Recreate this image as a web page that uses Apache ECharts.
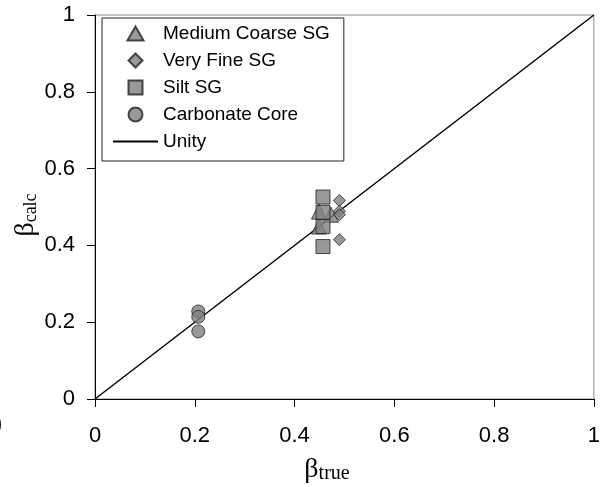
<!DOCTYPE html>
<html>
<head>
<meta charset="utf-8">
<script src="https://cdn.jsdelivr.net/npm/echarts@6/dist/echarts.min.js"></script>
<style>
html,body{margin:0;padding:0;background:#fff;}
#chart{width:603px;height:487px;}
</style>
</head>
<body>
<div id="chart"></div>
<script>
// Data (beta_true, beta_calc)
const seriesNames = ['Medium Coarse SG', 'Very Fine SG', 'Silt SG', 'Carbonate Core', 'Unity'];
const mediumCoarse = [[0.449, 0.488], [0.449, 0.449], [0.473, 0.480]];
const veryFine = [[0.490, 0.517], [0.490, 0.489], [0.490, 0.480], [0.490, 0.415]];
const silt = [[0.457, 0.526], [0.457, 0.486], [0.457, 0.449], [0.457, 0.397]];
const carbonate = [[0.207, 0.228], [0.207, 0.214], [0.207, 0.176]];
const unity = [[0, 0], [1, 1]];
const axisTicks = [0, 0.2, 0.4, 0.6, 0.8, 1];

const chart = echarts.init(document.getElementById('chart'));
const markerStyle = { color: '#808080', borderColor: '#222', borderWidth: 1 };
const sansFont = 'Liberation Sans, Arial, sans-serif';
const serifFont = 'Liberation Serif, Times New Roman, serif';

const legendIcons = {
  'Medium Coarse SG': 'path://M7.5,0 L15,13 L0,13 Z',
  'Very Fine SG': 'path://M6,0 L12,6 L6,12 L0,6 Z',
  'Silt SG': 'path://M0,0 L13,0 L13,13 L0,13 Z',
  'Carbonate Core': 'circle'
};

const option = {
  animation: false,
  backgroundColor: '#fff',
  grid: { left: 95, right: 6, top: 15, bottom: 88, show: true, borderColor: '#888', borderWidth: 1 },
  xAxis: {
    type: 'value', min: axisTicks[0], max: axisTicks[axisTicks.length - 1], interval: 0.2,
    axisLine: { show: true, onZero: false, lineStyle: { color: '#000', width: 1 } },
    axisTick: { show: true, inside: false, length: 8, lineStyle: { color: '#000' } },
    axisLabel: { margin: 26, fontSize: 22, color: '#000', fontFamily: sansFont },
    splitLine: { show: false }
  },
  yAxis: {
    type: 'value', min: axisTicks[0], max: axisTicks[axisTicks.length - 1], interval: 0.2,
    axisLine: { show: true, onZero: false, lineStyle: { color: '#000', width: 1 } },
    axisTick: { show: true, inside: false, length: 8, lineStyle: { color: '#000' } },
    axisLabel: { margin: 20, fontSize: 22, color: '#000', fontFamily: sansFont },
    splitLine: { show: false }
  },
  legend: {
    orient: 'vertical', left: 102, top: 18,
    padding: [6, 14, 10, 10], itemGap: 8, itemWidth: 45, itemHeight: 14,
    symbolKeepAspect: true,
    borderColor: '#222', borderWidth: 1, backgroundColor: '#fff',
    textStyle: { fontSize: 19, color: '#000', fontFamily: sansFont, lineHeight: 18 },
    data: seriesNames.map(function (n) {
      const d = { name: n, symbolKeepAspect: true };
      if (legendIcons[n]) d.icon = legendIcons[n];
      return d;
    })
  },
  series: [
    { name: seriesNames[4], type: 'line', data: unity, symbol: 'none', z: 1,
      lineStyle: { color: '#000', width: 1.5 }, itemStyle: { color: 'rgba(0,0,0,0)', borderWidth: 0 } },
    { name: seriesNames[0], type: 'scatter', data: mediumCoarse, symbol: 'triangle', symbolSize: 15, itemStyle: markerStyle, z: 2 },
    { name: seriesNames[1], type: 'scatter', data: veryFine, symbol: 'diamond', symbolSize: 12, itemStyle: markerStyle, z: 3 },
    { name: seriesNames[2], type: 'scatter', data: silt, symbol: 'rect', symbolSize: 14, itemStyle: markerStyle, z: 4 },
    { name: seriesNames[3], type: 'scatter', data: carbonate, symbol: 'circle', symbolSize: 13, itemStyle: markerStyle, z: 5 }
  ],
  graphic: [
    {
      type: 'text', x: 327, y: 484,
      style: {
        text: '{b|β}{s|true}', textAlign: 'center', textVerticalAlign: 'bottom',
        rich: {
          b: { fontFamily: serifFont, fontSize: 28, fill: '#000', verticalAlign: 'bottom', lineHeight: 30 },
          s: { fontFamily: serifFont, fontSize: 20, fill: '#000', verticalAlign: 'bottom', lineHeight: 26 }
        }
      }
    },
    {
      type: 'text', x: 25, y: 215, rotation: Math.PI / 2,
      style: {
        text: '{b|β}{s|calc}', textAlign: 'center', textVerticalAlign: 'middle',
        rich: {
          b: { fontFamily: serifFont, fontSize: 28, fill: '#000', verticalAlign: 'bottom', lineHeight: 30 },
          s: { fontFamily: serifFont, fontSize: 18, fill: '#000', verticalAlign: 'bottom', lineHeight: 26 }
        }
      }
    },
    {
      type: 'text', x: -5, y: 424,
      style: { text: ')', fontFamily: sansFont, fontSize: 22, fill: '#000', textVerticalAlign: 'middle' }
    }
  ]
};
chart.setOption(option);
</script>
</body>
</html>
